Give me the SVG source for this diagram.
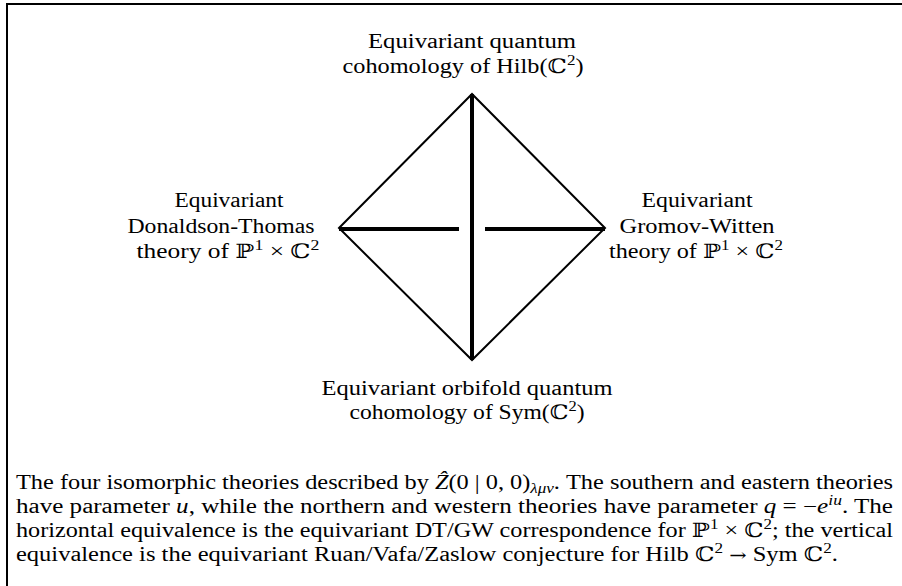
<svg xmlns="http://www.w3.org/2000/svg" width="902" height="586" viewBox="0 0 902 586">
<style>
text{font-family:"Liberation Serif","DejaVu Serif",serif;font-size:20px;fill:#000}
.lbl{text-anchor:middle}
.cap{font-size:20px}
.i{font-style:italic}
.sup{font-size:14px}
.sym{font-family:"DejaVu Serif",serif;font-size:17px}
.thin{stroke:#000;stroke-width:2;fill:none;stroke-linejoin:miter}
.thick{stroke:#000;stroke-width:4;fill:none}
</style>
<rect width="902" height="586" fill="#fff"/>
<g id="frame">
<path d="M7 586 V4 H902" class="thin"/>
</g>
<g id="connectors">
<path d="M339 228 L472 94 L605 228 L472 360 Z" class="thin"/>
<line x1="472" y1="94" x2="472" y2="360" class="thick"/>
<line x1="339" y1="229" x2="459" y2="229" class="thick"/>
<line x1="485" y1="229" x2="605" y2="229" class="thick"/>
</g>
<g id="north">
<text class="lbl" x="472" y="48" textLength="208" lengthAdjust="spacingAndGlyphs">Equivariant quantum</text>
<text class="lbl" x="463" y="73" textLength="241" lengthAdjust="spacingAndGlyphs">cohomology of Hilb(ℂ<tspan class="sup" dy="-8">2</tspan><tspan dy="8">)</tspan></text>
</g>
<g id="west">
<text class="lbl" x="229" y="207" textLength="109" lengthAdjust="spacingAndGlyphs">Equivariant</text>
<text class="lbl" x="221" y="233" textLength="187" lengthAdjust="spacingAndGlyphs">Donaldson-Thomas</text>
<text class="lbl" x="228" y="258" textLength="183" lengthAdjust="spacingAndGlyphs">theory of ℙ<tspan class="sup" dy="-8">1</tspan><tspan dy="8"> × ℂ</tspan><tspan class="sup" dy="-8">2</tspan></text>
</g>
<g id="east">
<text class="lbl" x="697" y="207" textLength="111" lengthAdjust="spacingAndGlyphs">Equivariant</text>
<text class="lbl" x="697" y="233" textLength="155" lengthAdjust="spacingAndGlyphs">Gromov-Witten</text>
<text class="lbl" x="696" y="258" textLength="174" lengthAdjust="spacingAndGlyphs">theory of ℙ<tspan class="sup" dy="-8">1</tspan><tspan dy="8"> × ℂ</tspan><tspan class="sup" dy="-8">2</tspan></text>
</g>
<g id="south">
<text class="lbl" x="467" y="395" textLength="291" lengthAdjust="spacingAndGlyphs">Equivariant orbifold quantum</text>
<text class="lbl" x="467" y="419" textLength="235" lengthAdjust="spacingAndGlyphs">cohomology of Sym(ℂ<tspan class="sup" dy="-8">2</tspan><tspan dy="8">)</tspan></text>
</g>
<g id="caption">
<text class="cap" x="16" y="489" textLength="877" lengthAdjust="spacingAndGlyphs">The four isomorphic theories described by <tspan class="i">Ẑ</tspan>(0 | 0, 0)<tspan class="i sup" dy="4">λμν</tspan><tspan dy="-4">. The southern and eastern theories</tspan></text>
<text class="cap" x="16" y="513" textLength="877" lengthAdjust="spacingAndGlyphs">have parameter <tspan class="i">u</tspan>, while the northern and western theories have parameter <tspan class="i">q</tspan> = −<tspan class="i">e</tspan><tspan class="i sup" dy="-8">iu</tspan><tspan dy="8">. The</tspan></text>
<text class="cap" x="16" y="537" textLength="877" lengthAdjust="spacingAndGlyphs">horizontal equivalence is the equivariant DT/GW correspondence for ℙ<tspan class="sup" dy="-8">1</tspan><tspan dy="8"> × ℂ</tspan><tspan class="sup" dy="-8">2</tspan><tspan dy="8">; the vertical</tspan></text>
<text class="cap" x="16" y="561" textLength="822" lengthAdjust="spacingAndGlyphs">equivalence is the equivariant Ruan/Vafa/Zaslow conjecture for Hilb ℂ<tspan class="sup" dy="-8">2</tspan><tspan dy="8"> </tspan><tspan class="sym">→</tspan> Sym ℂ<tspan class="sup" dy="-8">2</tspan><tspan dy="8">.</tspan></text>
</g>
</svg>
